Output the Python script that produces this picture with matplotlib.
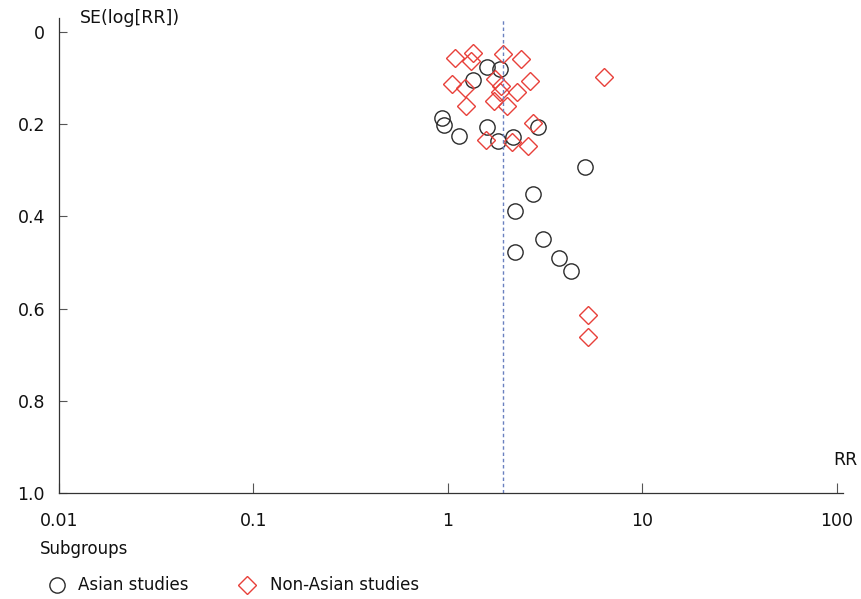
import matplotlib
matplotlib.use("Agg")
import matplotlib.pyplot as plt
from matplotlib.lines import Line2D

# funnel plot data (RR, SE of log RR)
asian_rr = [1.59, 1.85, 1.34, 0.93, 0.95, 1.14, 1.59, 1.81, 2.16, 2.90,
            5.06, 2.74, 2.21, 3.08, 2.21, 3.72, 4.29]
asian_se = [0.076, 0.081, 0.105, 0.187, 0.202, 0.226, 0.206, 0.237, 0.228, 0.206,
            0.293, 0.352, 0.388, 0.449, 0.477, 0.490, 0.518]

nonasian_rr = [1.09, 1.34, 1.31, 1.92, 2.37, 1.05, 1.22, 1.24, 1.74, 1.87, 1.85,
               2.26, 2.64, 1.72, 2.01, 6.34, 2.74, 1.57, 2.13, 2.58, 5.24, 5.24]
nonasian_se = [0.057, 0.046, 0.063, 0.048, 0.059, 0.113, 0.122, 0.161, 0.102, 0.118, 0.131,
               0.131, 0.107, 0.150, 0.161, 0.098, 0.198, 0.235, 0.239, 0.248, 0.614, 0.661]

pooled_rr = 1.92
x_ticks = [0.01, 0.1, 1, 10, 100]
x_labels = ["0.01", "0.1", "1", "10", "100"]
y_ticks = [0, 0.2, 0.4, 0.6, 0.8, 1.0]
y_labels = ["0", "0.2", "0.4", "0.6", "0.8", "1.0"]

BLACK = "#2b2b2b"
RED = "#e8403a"

fig = plt.figure(figsize=(8.62, 5.99), dpi=100)
ax = fig.add_axes([59 / 862, 1 - 493 / 599, (843 - 59) / 862, (493 - 18) / 599])

ax.plot(asian_rr, asian_se, linestyle="none", marker="o", markersize=11,
        markerfacecolor="none", markeredgecolor=BLACK, markeredgewidth=1.0)
ax.plot(nonasian_rr, nonasian_se, linestyle="none", marker="D", markersize=9.5,
        markerfacecolor="none", markeredgecolor=RED, markeredgewidth=1.0)
ax.axvline(pooled_rr, color="#6a80c0", linestyle=(0, (2.5, 2)), linewidth=1.0)

ax.set_xscale("log")
ax.set_xlim(0.01, 10 ** 2.031)
ax.set_ylim(1.0, -0.03)
ax.set_xticks(x_ticks)
ax.set_xticklabels(x_labels)
ax.set_yticks(y_ticks)
ax.set_yticklabels(y_labels)
ax.minorticks_off()

for s in ["top", "right"]:
    ax.spines[s].set_visible(False)
for s in ["left", "bottom"]:
    ax.spines[s].set_color("#333333")
    ax.spines[s].set_linewidth(0.9)

ax.tick_params(axis="x", direction="in", length=7, width=0.8, color="#555555",
               labelsize=12.5, pad=14, labelcolor="#111111")
ax.tick_params(axis="y", direction="in", length=6, width=0.8, color="#555555",
               labelsize=12.5, pad=10, labelcolor="#111111")

fig.text(80 / 862, 1 - 18 / 599, "SE(log[RR])", fontsize=12.5, va="center", ha="left", color="#111111")
fig.text(845 / 862, 1 - 460 / 599, "RR", fontsize=12.5, va="center", ha="center", color="#111111")

# legend drawn by hand below the axis
fig.text(40 / 862, 1 - 549 / 599, "Subgroups", fontsize=12, va="center", ha="left", color="#111111")
fig.add_artist(Line2D([57 / 862], [1 - 585 / 599], linestyle="none", marker="o", markersize=11,
                      markerfacecolor="none", markeredgecolor=BLACK, markeredgewidth=1.0))
fig.text(78 / 862, 1 - 585 / 599, "Asian studies", fontsize=12, va="center", ha="left", color="#111111")
fig.add_artist(Line2D([247 / 862], [1 - 585 / 599], linestyle="none", marker="D", markersize=9.5,
                      markerfacecolor="none", markeredgecolor=RED, markeredgewidth=1.0))
fig.text(270 / 862, 1 - 585 / 599, "Non-Asian studies", fontsize=12, va="center", ha="left", color="#111111")

fig.savefig("out.png", dpi=100)
